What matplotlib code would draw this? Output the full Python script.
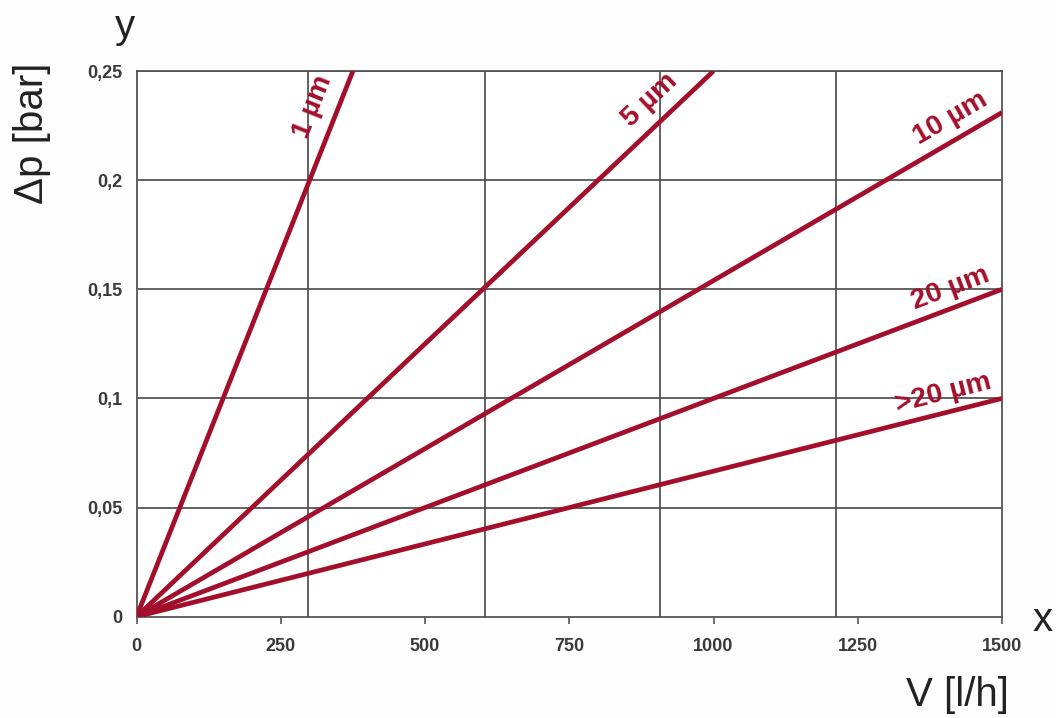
import matplotlib
matplotlib.use("Agg")
import matplotlib.pyplot as plt
import numpy as np

plt.rcParams['font.family'] = ['Liberation Sans', 'DejaVu Sans']

# Data
series_names = ["1 µm", "5 µm", "10 µm", "20 µm", ">20 µm"]
x_end = [375, 1000, 1500, 1500, 1500]          # flow V [l/h] at line end
y_end = [0.25, 0.25, 0.231, 0.150, 0.100]       # Δp [bar] at line end
label_x = [306, 890, 1410, 1410, 1398]
label_y = [0.2335, 0.2367, 0.2283, 0.1504, 0.1025]

x_ticks = [0, 250, 500, 750, 1000, 1250, 1500]
x_ticklabels = ["0", "250", "500", "750", "1000", "1250", "1500"]
y_ticks = [0, 0.05, 0.1, 0.15, 0.2, 0.25]
y_ticklabels = ["0", "0,05", "0,1", "0,15", "0,2", "0,25"]
x_grid = [297, 604, 908, 1213]

line_color = "#A30F2B"
grid_color = "#555555"

fig = plt.figure(figsize=(10.56, 7.18), dpi=100)
fig.patch.set_facecolor("#FDFDFD")
ax = fig.add_axes([0.1293, 0.1411, 0.9489 - 0.1293, 0.9011 - 0.1411])
ax.set_facecolor("#FFFFFF")
ax.set_xlim(0, 1500)
ax.set_ylim(0, 0.25)

for g in x_grid:
    ax.axvline(g, color=grid_color, lw=1.3, zorder=1)
for g in y_ticks[1:]:
    ax.axhline(g, color=grid_color, lw=1.3, zorder=1)

for xe, ye in zip(x_end, y_end):
    ax.plot([0, xe], [0, ye], color=line_color, lw=3.4, solid_capstyle='butt', zorder=3)

# rotated labels along lines
for name, xe, ye, lx, ly in zip(series_names, x_end, y_end, label_x, label_y):
    p0 = ax.transData.transform((0, 0))
    p1 = ax.transData.transform((xe, ye))
    ang = np.degrees(np.arctan2(p1[1] - p0[1], p1[0] - p0[0]))
    ax.text(lx, ly, name, rotation=ang, rotation_mode='anchor', ha='center', va='center',
            color=line_color, fontsize=20.5, fontweight='bold', zorder=4)

ax.set_xticks(x_ticks)
ax.set_xticklabels(x_ticklabels)
ax.set_yticks(y_ticks)
ax.set_yticklabels(y_ticklabels)
ax.tick_params(axis='x', direction='out', length=5, width=1.2, color=grid_color,
               labelsize=13, labelcolor="#3a3a3a", pad=10)
ax.tick_params(axis='y', length=0, labelsize=13, labelcolor="#3a3a3a", pad=10)
for lab in ax.get_xticklabels() + ax.get_yticklabels():
    lab.set_fontweight('bold')

for s in ax.spines.values():
    s.set_color(grid_color)
    s.set_linewidth(1.3)

fig.text(32 / 1056, 1 - 133 / 718, "Δp [bar]", rotation=90, ha='center', va='center',
         fontsize=29, color="#222222")
fig.text(125 / 1056, 1 - 27 / 718, "y", ha='center', va='center', fontsize=29, color="#222222")
fig.text(1043 / 1056, 1 - 620 / 718, "x", ha='center', va='center', fontsize=29, color="#222222")
fig.text(957 / 1056, 1 - 695 / 718, "V [l/h]", ha='center', va='center', fontsize=29, color="#222222")

fig.savefig("out.png", dpi=100, facecolor=fig.get_facecolor())
